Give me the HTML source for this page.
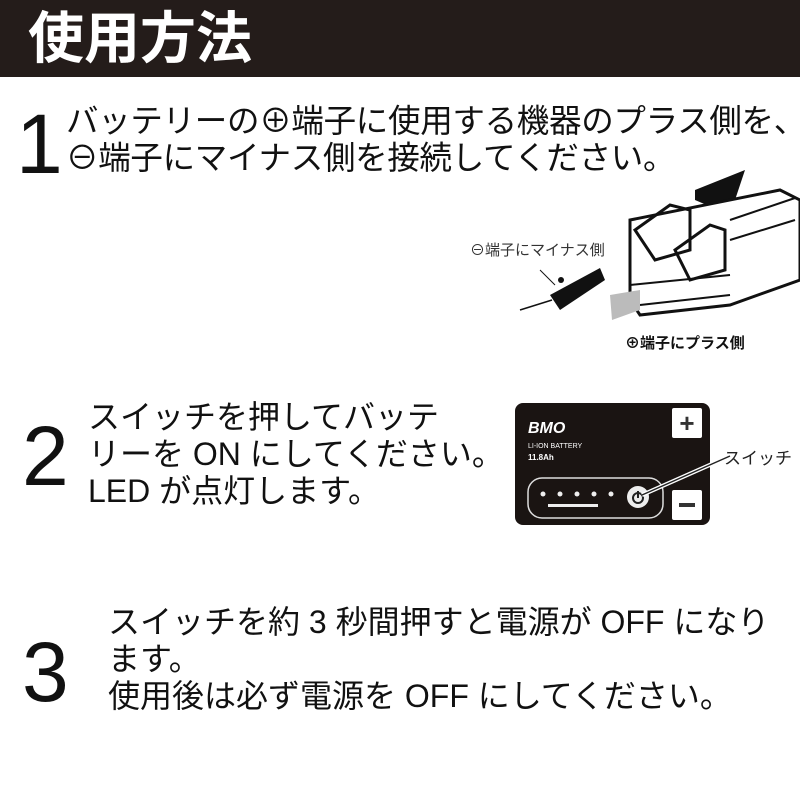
<!DOCTYPE html>
<html><head><meta charset="utf-8"><style>
body{margin:0;width:800px;height:800px;background:#fff;position:relative;overflow:hidden;font-family:"Liberation Sans","Noto Sans CJK JP",sans-serif;color:#111}
.hd{position:absolute;left:0;top:0;width:800px;height:77px;background:#241c1a}
.ttl{position:absolute;left:28px;top:4px;font-size:56px;font-weight:bold;color:#fff;line-height:70px}
.t{position:absolute;white-space:nowrap;font-size:32px;line-height:37px}
.n{position:absolute;font-size:84px;line-height:84px;font-family:"Liberation Sans",sans-serif}
</style></head><body>
<div class="hd"></div><div class="ttl">使用方法</div>
<div class="n" style="left:16px;top:102px">1</div>
<div class="t" style="left:66px;top:103px;font-size:32.5px;letter-spacing:-0.3px">バッテリーの⊕端子に使用する機器のプラス側を、<br>⊖端子にマイナス側を接続してください。</div>

<svg style="position:absolute;left:440px;top:160px" width="360" height="200" viewBox="0 0 360 200">
<polygon points="255,30 305,10 290,55 255,40" fill="#111"/>
<path d="M190,60 L340,30 L360,40 L360,120 L290,145 L200,155 L190,140 Z" fill="#fff" stroke="#111" stroke-width="3"/>
<path d="M195,70 L230,45 L250,50 L250,90 L215,100 Z" fill="none" stroke="#111" stroke-width="3"/>
<path d="M235,90 L270,65 L285,70 L285,110 L250,120 Z" fill="none" stroke="#111" stroke-width="3"/>
<path d="M190,125 L290,115 M200,145 L290,135" stroke="#111" stroke-width="2"/>
<path d="M290,60 L355,38 M290,80 L355,60" stroke="#111" stroke-width="2"/>
<polygon points="110,135 160,108 165,120 120,150" fill="#111"/>
<line x1="80" y1="150" x2="112" y2="140" stroke="#111" stroke-width="1.5"/>
<line x1="115" y1="125" x2="100" y2="110" stroke="#111"/>
<circle cx="121" cy="120" r="3" fill="#111"/>
<polygon points="170,135 200,130 200,150 172,160" fill="#bbb"/>
<text x="30" y="95" font-size="15" fill="#333" font-family="Liberation Sans,Noto Sans CJK JP,sans-serif">⊖端子にマイナス側</text>
<text x="185" y="188" font-size="15" font-weight="bold" fill="#111" font-family="Liberation Sans,Noto Sans CJK JP,sans-serif">⊕端子にプラス側</text>
</svg>

<div class="n" style="left:22px;top:414px">2</div>
<div class="t" style="left:88px;top:399px">スイッチを押してバッテ<br>リーを ON にしてください。<br>LED が点灯します。</div>

<svg style="position:absolute;left:510px;top:398px" width="290" height="135" viewBox="0 0 290 135">
<rect x="5" y="5" width="195" height="122" rx="8" fill="#1a1412"/>
<rect x="162" y="10" width="30" height="30" rx="2" fill="#fff"/>
<text x="177" y="34" font-size="26" font-weight="bold" fill="#333" text-anchor="middle" font-family="Liberation Sans,sans-serif">+</text>
<rect x="162" y="92" width="30" height="30" rx="2" fill="#fff"/>
<rect x="169" y="105" width="16" height="4" fill="#333"/>
<text x="18" y="35" font-size="16" font-weight="bold" font-style="italic" fill="#fff" font-family="Liberation Sans,sans-serif">BMO</text>
<text x="18" y="50" font-size="7" fill="#fff" font-family="Liberation Sans,sans-serif">LI-ION BATTERY</text>
<text x="18" y="62" font-size="8" font-weight="bold" fill="#fff" font-family="Liberation Sans,sans-serif">11.8Ah</text>
<rect x="18" y="80" width="135" height="40" rx="14" fill="none" stroke="#ddd" stroke-width="1.5"/>
<g fill="#eee"><circle cx="33" cy="96" r="2.5"/><circle cx="50" cy="96" r="2.5"/><circle cx="67" cy="96" r="2.5"/><circle cx="84" cy="96" r="2.5"/><circle cx="101" cy="96" r="2.5"/></g>
<rect x="38" y="106" width="50" height="3" fill="#eee"/>
<circle cx="128" cy="99" r="11" fill="#eee"/>
<circle cx="128" cy="100" r="5" fill="none" stroke="#222" stroke-width="2"/>
<line x1="128" y1="93" x2="128" y2="100" stroke="#222" stroke-width="2"/>
<line x1="132" y1="97" x2="220" y2="58" stroke="#fff" stroke-width="4"/>
<line x1="132" y1="97" x2="220" y2="58" stroke="#222" stroke-width="1.5"/>
<text x="214" y="66" font-size="17" fill="#222" font-family="Liberation Sans,Noto Sans CJK JP,sans-serif">スイッチ</text>
</svg>

<div class="n" style="left:22px;top:630px">3</div>
<div class="t" style="left:108px;top:604px">スイッチを約 3 秒間押すと電源が OFF になり<br>ます。<br>使用後は必ず電源を OFF にしてください。</div>
</body></html>
